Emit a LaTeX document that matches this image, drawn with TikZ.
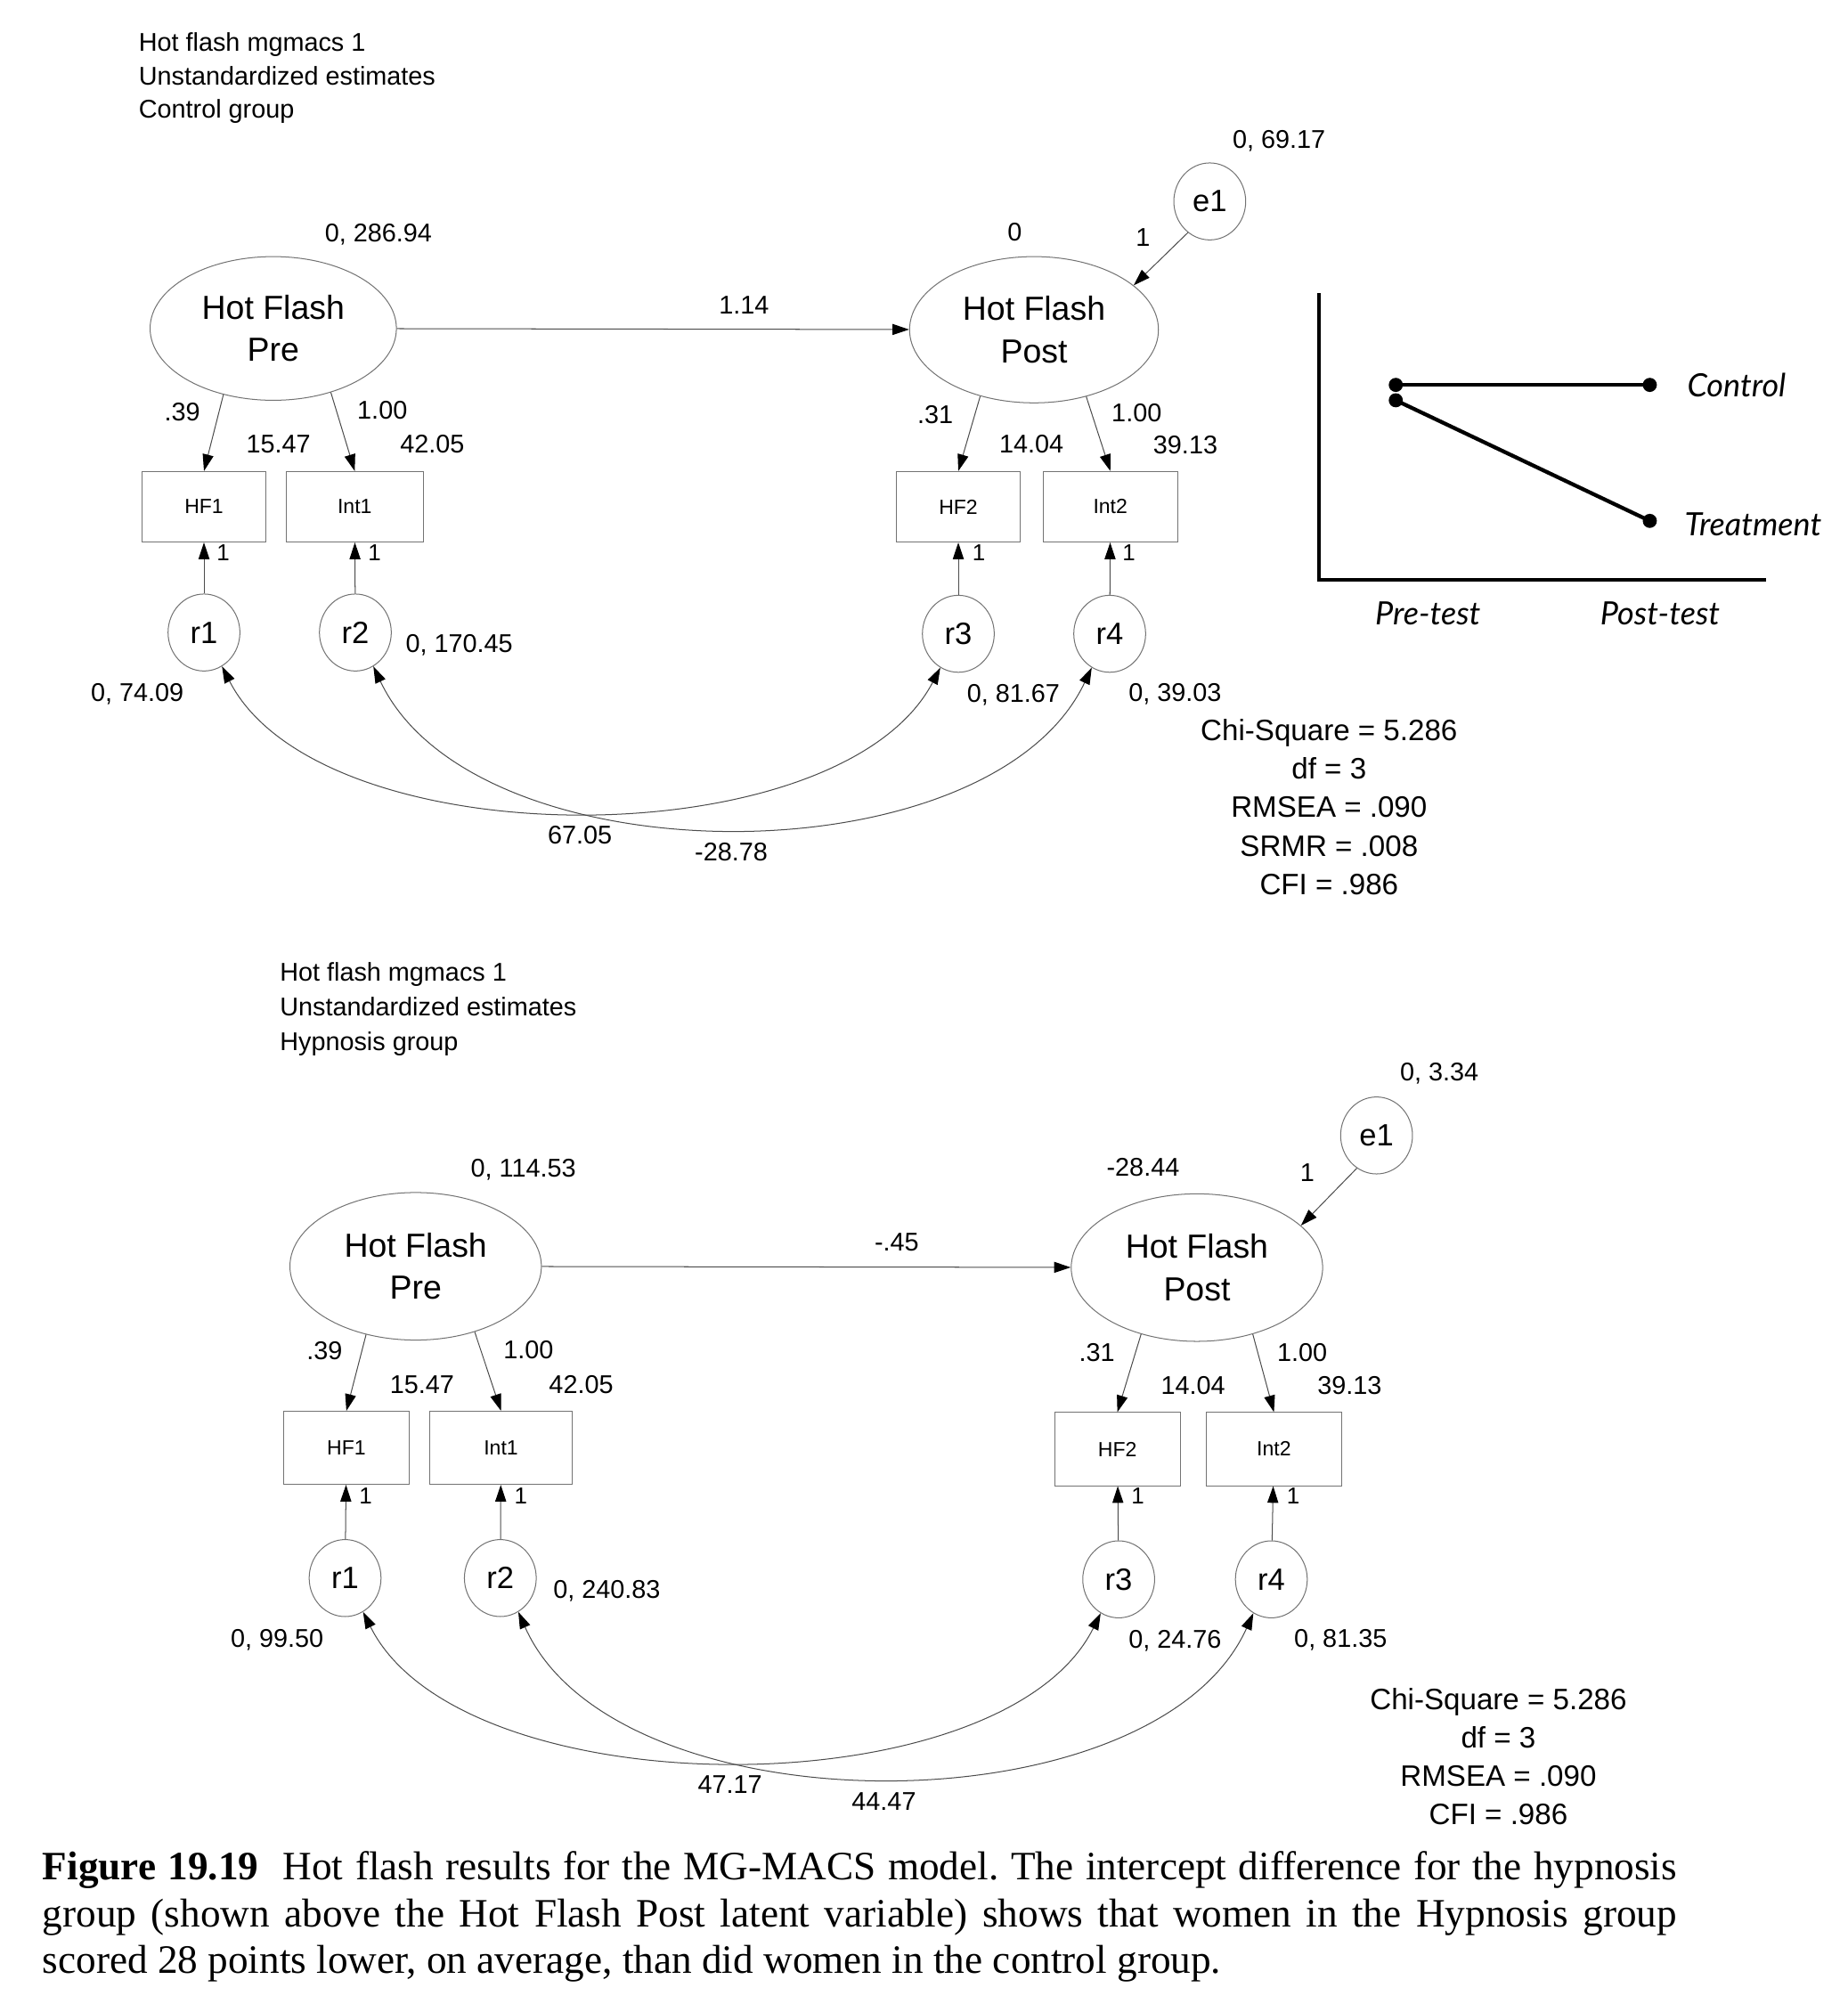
\documentclass[tikz,border=0pt]{standalone}
\usepackage{fontspec}
\setmainfont{Liberation Sans}
\newfontfamily\capfont{Liberation Serif}
\newfontfamily\chartfont{Lato}
\usetikzlibrary{shapes.geometric,arrows.meta,calc}
\begin{document}
\begin{tikzpicture}[x=1pt,y=-1pt,
  lat/.style={draw=black!55, line width=0.7pt, ellipse, minimum width=194pt, minimum height=114pt, inner sep=0pt, align=center, font=\fontsize{26}{33}\selectfont},
  res/.style={draw=black!55, line width=0.7pt, ellipse, minimum width=56pt, minimum height=60pt, inner sep=0pt, font=\fontsize{24}{28}\selectfont},
  obs/.style={draw=black!55, line width=0.7pt, rectangle, minimum width=96pt, minimum height=55pt, inner sep=0pt, font=\fontsize{16}{19}\selectfont},
  lbl/.style={font=\fontsize{20}{24}\selectfont, inner sep=0pt},
  one/.style={font=\fontsize{18}{22}\selectfont, inner sep=0pt},
  ttl/.style={font=\fontsize{20}{26}\selectfont, inner sep=0pt, anchor=base west},
  stats/.style={font=\fontsize{23}{30}\selectfont, inner sep=0pt, align=center},
  arr/.style={draw=black!70, line width=0.7pt, -{Triangle[length=13pt,width=8.5pt,color=black]}},
  covarr/.style={draw=black!70, line width=0.7pt, {Triangle[length=13pt,width=8.5pt,color=black]}-{Triangle[length=13pt,width=8.5pt,color=black]}},
  dot/.style={circle, fill=black, minimum size=11pt, inner sep=0pt},
  axis/.style={line width=3pt, line cap=rect},
  trend/.style={line width=3pt},
  clab/.style={font=\chartfont\itshape\fontsize{25}{30}\selectfont, inner sep=0pt},
]
\useasboundingbox (0,0) rectangle (1440,1562);
\fill[white] (0,0) rectangle (1440,1562);

% ================= TOP PANEL =================
\node[ttl] (t1a) at (108,40) {Hot flash mgmacs 1};
\node[ttl] (t2a) at (108,66) {Unstandardized estimates};
\node[ttl] (t3a) at (108,92) {Control group};

\node[lat, minimum width=192pt, minimum height=112pt] (pre1) at (213,256) {Hot Flash\\Pre};
\node[lat] (post1) at (806,257) {Hot Flash\\Post};
\node[res] (e1a) at (943,157) {e1};
\node[obs] (hf1a) at (159,395) {HF1};
\node[obs, minimum width=107pt] (int1a) at (276.5,395) {Int1};
\node[obs] (hf2a) at (747,395) {HF2};
\node[obs, minimum width=105pt] (int2a) at (865.5,395) {Int2};
\node[res] (r1a) at (159,493) {r1};
\node[res] (r2a) at (277,493) {r2};
\node[res] (r3a) at (747,494) {r3};
\node[res] (r4a) at (865,494) {r4};

\draw[arr] (pre1) -- (post1);
\draw[arr] (e1a.235) -- (post1.24);
\draw[arr] (pre1.233) -- (hf1a.north);
\draw[arr] (pre1.312) -- (int1a.north);
\draw[arr] (post1.231) -- (hf2a.north);
\draw[arr] (post1.308) -- (int2a.north);
\draw[arr] (r1a) -- (hf1a);
\draw[arr] (r2a) -- (int1a);
\draw[arr] (r3a) -- (hf2a);
\draw[arr] (r4a) -- (int2a);
\draw[covarr] (r1a.-62) .. controls (250,670) and (655,670) .. (r3a.-118);
\draw[covarr] (r2a.-62) .. controls (370,687) and (772,687) .. (r4a.-118);

\node[lbl] (v1a) at (295,183) {0, 286.94};
\node[lbl] (i2a) at (791,181) {0};
\node[lbl] (w1a) at (891,185) {1};
\node[lbl] (ve1a) at (997,110) {0, 69.17};
\node[lbl] (ba) at (580,238) {1.14};
\node[lbl] (l1a) at (142,321) {.39};
\node[lbl] (m1a) at (217,346) {15.47};
\node[lbl] (l2a) at (298,320) {1.00};
\node[lbl] (m2a) at (337,346) {42.05};
\node[lbl] (l3a) at (729,323) {.31};
\node[lbl] (m3a) at (804,346) {14.04};
\node[lbl] (l4a) at (886,322) {1.00};
\node[lbl] (m4a) at (924,347) {39.13};
\node[one] (o1a) at (174,431) {1};
\node[one] (o2a) at (292,431) {1};
\node[one] (o3a) at (763,431) {1};
\node[one] (o4a) at (880,431) {1};
\node[lbl] (vr2a) at (358,503) {0, 170.45};
\node[lbl] (vr1a) at (107,541) {0, 74.09};
\node[lbl] (vr3a) at (790,542) {0, 81.67};
\node[lbl] (vr4a) at (916,541) {0, 39.03};
\node[lbl] (c13a) at (452,651) {67.05};
\node[lbl] (c24a) at (570,664) {-28.78};

\node[stats] (fita) at (1036,629) {Chi-Square = 5.286\\df = 3\\RMSEA = .090\\SRMR = .008\\CFI = .986};

% inset chart
\coordinate (ytop) at (1028,230);
\coordinate (orig) at (1028,452);
\coordinate (xend) at (1375,452);
\draw[axis] (ytop) -- (orig) -- (xend);
\node[dot] (cpre) at (1088,300) {};
\node[dot] (cpost) at (1286,300) {};
\node[dot] (tpre) at (1088,312) {};
\node[dot] (tpost) at (1286,406) {};
\draw[trend] (cpre.center) -- (cpost.center);
\draw[trend] (tpre.center) -- (tpost.center);
\node[clab, anchor=west] (clab1) at (1315,300) {Control};
\node[clab, anchor=west] (tlab1) at (1313,409) {Treatment};
\node[clab] (xpre) at (1113,478) {Pre-test};
\node[clab] (xpost) at (1294,478) {Post-test};

% ================= BOTTOM PANEL =================
\node[ttl] (t1b) at (218,765) {Hot flash mgmacs 1};
\node[ttl] (t2b) at (218,792) {Unstandardized estimates};
\node[ttl] (t3b) at (218,819) {Hypnosis group};

\node[lat, minimum width=196pt, minimum height=115pt] (pre2) at (324,987) {Hot Flash\\Pre};
\node[lat, minimum width=196pt, minimum height=115pt] (post2) at (933,988) {Hot Flash\\Post};
\node[res] (e1b) at (1073,885) {e1};
\node[obs, minimum width=98pt, minimum height=57pt] (hf1b) at (270,1128.5) {HF1};
\node[obs, minimum width=111pt, minimum height=57pt] (int1b) at (390.5,1128.5) {Int1};
\node[obs, minimum width=98pt, minimum height=57pt] (hf2b) at (871,1129.5) {HF2};
\node[obs, minimum width=106pt, minimum height=57pt] (int2b) at (993,1129.5) {Int2};
\node[res] (r1b) at (269,1230) {r1};
\node[res] (r2b) at (390,1230) {r2};
\node[res] (r3b) at (872,1231) {r3};
\node[res] (r4b) at (991,1231) {r4};

\draw[arr] (pre2) -- (post2);
\draw[arr] (e1b.239) -- (post2.22);
\draw[arr] (pre2.234) -- (hf1b.north);
\draw[arr] (pre2.312) -- (int1b.north);
\draw[arr] (post2.230) -- (hf2b.north);
\draw[arr] (post2.310) -- (int2b.north);
\draw[arr] (r1b) -- (hf1b);
\draw[arr] (r2b) -- (int1b);
\draw[arr] (r3b) -- (hf2b);
\draw[arr] (r4b) -- (int2b);
\draw[covarr] (r1b.-62) .. controls (360,1411) and (782,1411) .. (r3b.-118);
\draw[covarr] (r2b.-62) .. controls (480,1428) and (900,1428) .. (r4b.-118);

\node[lbl] (v1b) at (408,912) {0, 114.53};
\node[lbl] (i2b) at (891,910) {-28.44};
\node[lbl] (w1b) at (1019,914) {1};
\node[lbl] (ve1b) at (1122,837) {0, 3.34};
\node[lbl] (bb) at (699,968) {-.45};
\node[lbl] (l1b) at (253,1053) {.39};
\node[lbl] (m1b) at (329,1079) {15.47};
\node[lbl] (l2b) at (412,1052) {1.00};
\node[lbl] (m2b) at (453,1079) {42.05};
\node[lbl] (l3b) at (855,1054) {.31};
\node[lbl] (m3b) at (930,1080) {14.04};
\node[lbl] (l4b) at (1015,1054) {1.00};
\node[lbl] (m4b) at (1052,1080) {39.13};
\node[one] (o1b) at (285,1166) {1};
\node[one] (o2b) at (406,1166) {1};
\node[one] (o3b) at (887,1166) {1};
\node[one] (o4b) at (1008,1166) {1};
\node[lbl] (vr2b) at (473,1240) {0, 240.83};
\node[lbl] (vr1b) at (216,1278) {0, 99.50};
\node[lbl] (vr3b) at (916,1279) {0, 24.76};
\node[lbl] (vr4b) at (1045,1278) {0, 81.35};
\node[lbl] (c13b) at (569,1391) {47.17};
\node[lbl] (c24b) at (689,1404) {44.47};

\node[stats] (fitb) at (1168,1369) {Chi-Square = 5.286\\df = 3\\RMSEA = .090\\CFI = .986};

% caption
\node[anchor=north west, inner sep=0pt, text width=1274pt, align=justify,
      font=\capfont\fontsize{31.4}{36.5}\selectfont\frenchspacing] (cap) at (33,1443)
  {\textbf{Figure 19.19}\hspace{0.3em} Hot flash results for the MG-MACS model. The intercept difference for the hypnosis\linebreak
   group (shown above the Hot Flash Post latent variable) shows that women in the Hypnosis group\linebreak
   scored 28 points lower, on average, than did women in the control group.};
\end{tikzpicture}
\end{document}
